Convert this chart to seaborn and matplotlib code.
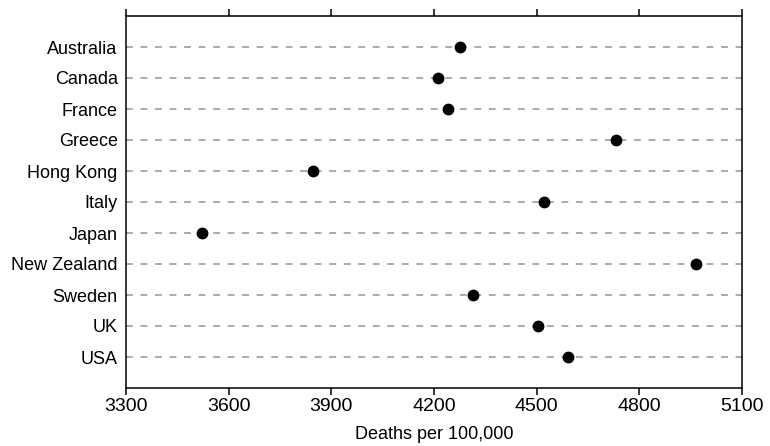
import matplotlib
matplotlib.use("Agg")
import matplotlib.pyplot as plt
import seaborn as sns
import pandas as pd

# =====================================================
# DATA
# =====================================================

countries = [
    "Australia", "Canada", "France", "Greece", "Hong Kong", "Italy",
    "Japan", "New Zealand", "Sweden", "UK", "USA"
]
deaths = [4276, 4212, 4240, 4731, 3847, 4521, 3521, 4967, 4315, 4505, 4592]

x_ticks = [3300, 3600, 3900, 4200, 4500, 4800, 5100]

df = pd.DataFrame({"country": countries, "deaths": deaths})

# =====================================================
# STYLE
# =====================================================

sns.set_style("white")
plt.rcParams["font.family"] = ["Liberation Sans", "DejaVu Sans"]
plt.rcParams["text.color"] = "black"
plt.rcParams["xtick.color"] = "black"
plt.rcParams["ytick.color"] = "black"
plt.rcParams["axes.labelcolor"] = "black"

fig = plt.figure(figsize=(7.7, 4.46), dpi=100)
ax = fig.add_axes([126 / 770, 1 - 388 / 446, 616 / 770, 372 / 446])

# =====================================================
# PLOT
# =====================================================

sns.stripplot(
    data=df,
    x="deaths",
    y="country",
    order=countries,
    jitter=False,
    color="black",
    size=8.5,
    linewidth=0,
    ax=ax,
    zorder=3
)

ax.set_xlim(3300, 5100)
ax.set_ylim(len(countries), -1)
ax.set_xticks(x_ticks)
ax.set_xticklabels([str(t) for t in x_ticks])

ax.grid(axis="y", color="#959595", linestyle=(0, (4.5, 5)), linewidth=1.1)
ax.grid(axis="x", visible=False)
ax.set_axisbelow(True)

for side in ["top", "bottom", "left", "right"]:
    ax.spines[side].set_visible(True)
    ax.spines[side].set_color("black")
    ax.spines[side].set_linewidth(1.1)

ax.tick_params(axis="x", which="both", direction="out", length=5, width=1.1,
               color="black", top=True, bottom=True, labeltop=False,
               labelsize=14, pad=2)
ax.tick_params(axis="y", length=0, labelsize=13, pad=6)

ax.set_xlabel("Deaths per 100,000", fontsize=13, labelpad=8)
ax.set_ylabel("")

plt.savefig("out.png", dpi=100)
